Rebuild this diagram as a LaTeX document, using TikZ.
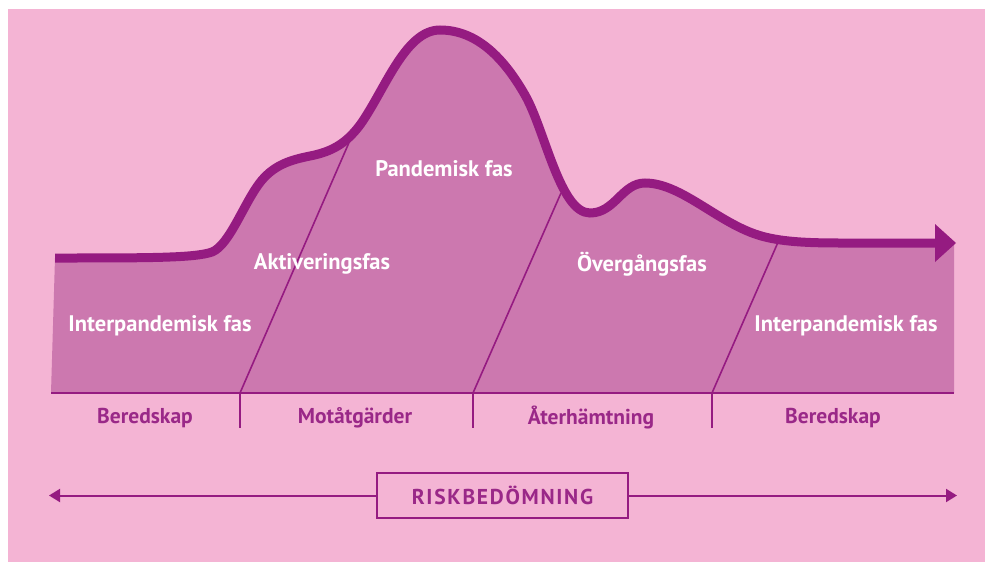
\documentclass[tikz,border=0pt]{standalone}
\usepackage{fontspec}
\setmainfont{PT Sans}
\usetikzlibrary{arrows.meta}
\definecolor{bgpink}{HTML}{F4B4D4}
\definecolor{fillpink}{HTML}{CC78AF}
\definecolor{darkpurple}{HTML}{951B81}
\definecolor{labpurple}{HTML}{9A2888}
\tikzset{
  inlabel/.style={text=white, font=\bfseries\fontsize{22.5}{26}\selectfont, inner sep=0pt},
  outlabel/.style={text=labpurple, font=\bfseries\fontsize{21.5}{25}\selectfont, inner sep=0pt},
  divider/.style={draw=darkpurple, line width=1.6pt},
  tick/.style={draw=darkpurple, line width=1.6pt},
  riskbox/.style={draw=darkpurple, line width=1.6pt, minimum width=251pt, minimum height=45pt, inner sep=0pt, text=labpurple, font=\bfseries\fontsize{21.5}{25}\selectfont\addfontfeature{LetterSpace=8}},
  riskarrow/.style={draw=darkpurple, line width=2pt, -{Triangle[length=11pt,width=13pt]}}
}
\begin{document}
\begin{tikzpicture}[x=1pt,y=-1pt]
\useasboundingbox (0,0) rectangle (985,562);
\fill[white] (0,0) rectangle (985,562);
\fill[bgpink] (8,9) rectangle (985,562);
% filled area
\fill[fillpink] (55,258) .. controls (150,258) and (195,258) .. (212,252)
  .. controls (230,245) and (245,200) .. (262,180)
  .. controls (275,165) and (290,160) .. (310,156)
  .. controls (330,152) and (345,145) .. (360,125)
  .. controls (385,90) and (405,30) .. (440,30)
  .. controls (478,30) and (505,60) .. (525,95)
  .. controls (545,130) and (560,213) .. (590,213)
  .. controls (615,213) and (622,183) .. (645,183)
  .. controls (680,183) and (715,220) .. (755,234)
  .. controls (775,241) and (800,243) .. (840,243)
  -- (954,243) -- (954,393) -- (51,393) -- cycle;
% dividers
\coordinate (d1b) at (240,393); \coordinate (d1t) at (351,138);
\coordinate (d2b) at (473,393); \coordinate (d2t) at (561,193);
\coordinate (d3b) at (712,393); \coordinate (d3t) at (779,240);
\draw[divider] (d1b) -- (d1t);
\draw[divider] (d2b) -- (d2t);
\draw[divider] (d3b) -- (d3t);
% baseline
\coordinate (bl) at (51,393); \coordinate (br) at (954,393);
\draw[divider] (bl) -- (br);
\coordinate (t1) at (240,428); \coordinate (t2) at (473,428); \coordinate (t3) at (712,428);
\draw[tick] (d1b) -- (t1);
\draw[tick] (d2b) -- (t2);
\draw[tick] (d3b) -- (t3);
% thick curve
\draw[darkpurple, line width=9pt, line cap=butt] (55,258) .. controls (150,258) and (195,258) .. (212,252)
  .. controls (230,245) and (245,200) .. (262,180)
  .. controls (275,165) and (290,160) .. (310,156)
  .. controls (330,152) and (345,145) .. (360,125)
  .. controls (385,90) and (405,30) .. (440,30)
  .. controls (478,30) and (505,60) .. (525,95)
  .. controls (545,130) and (560,213) .. (590,213)
  .. controls (615,213) and (622,183) .. (645,183)
  .. controls (680,183) and (715,220) .. (755,234)
  .. controls (775,241) and (800,243) .. (840,243)
  -- (937,243);
\fill[darkpurple] (935,224) -- (956,243) -- (935,262) -- cycle;
% labels in fill
\node[inlabel] (ip1) at (160,326) {Interpandemisk fas};
\node[inlabel] (akt) at (322,264) {Aktiveringsfas};
\node[inlabel] (pan) at (444,169) {Pandemisk fas};
\node[inlabel] (ovg) at (642,264) {Övergångsfas};
\node[inlabel] (ip2) at (846,326) {Interpandemisk fas};
% labels below
\node[outlabel] (b1) at (145,418) {Beredskap};
\node[outlabel] (mot) at (355,418) {Motåtgärder};
\node[outlabel] (ater) at (591,418) {Återhämtning};
\node[outlabel] (b2) at (833,418) {Beredskap};
% risk assessment
\node[riskbox] (risk) at (502.5,495.5) {RISKBEDÖMNING};
\coordinate (rl) at (49,495.5); \coordinate (rr) at (957,495.5);
\draw[riskarrow] (risk.west) -- (rl);
\draw[riskarrow] (risk.east) -- (rr);
\end{tikzpicture}
\end{document}
